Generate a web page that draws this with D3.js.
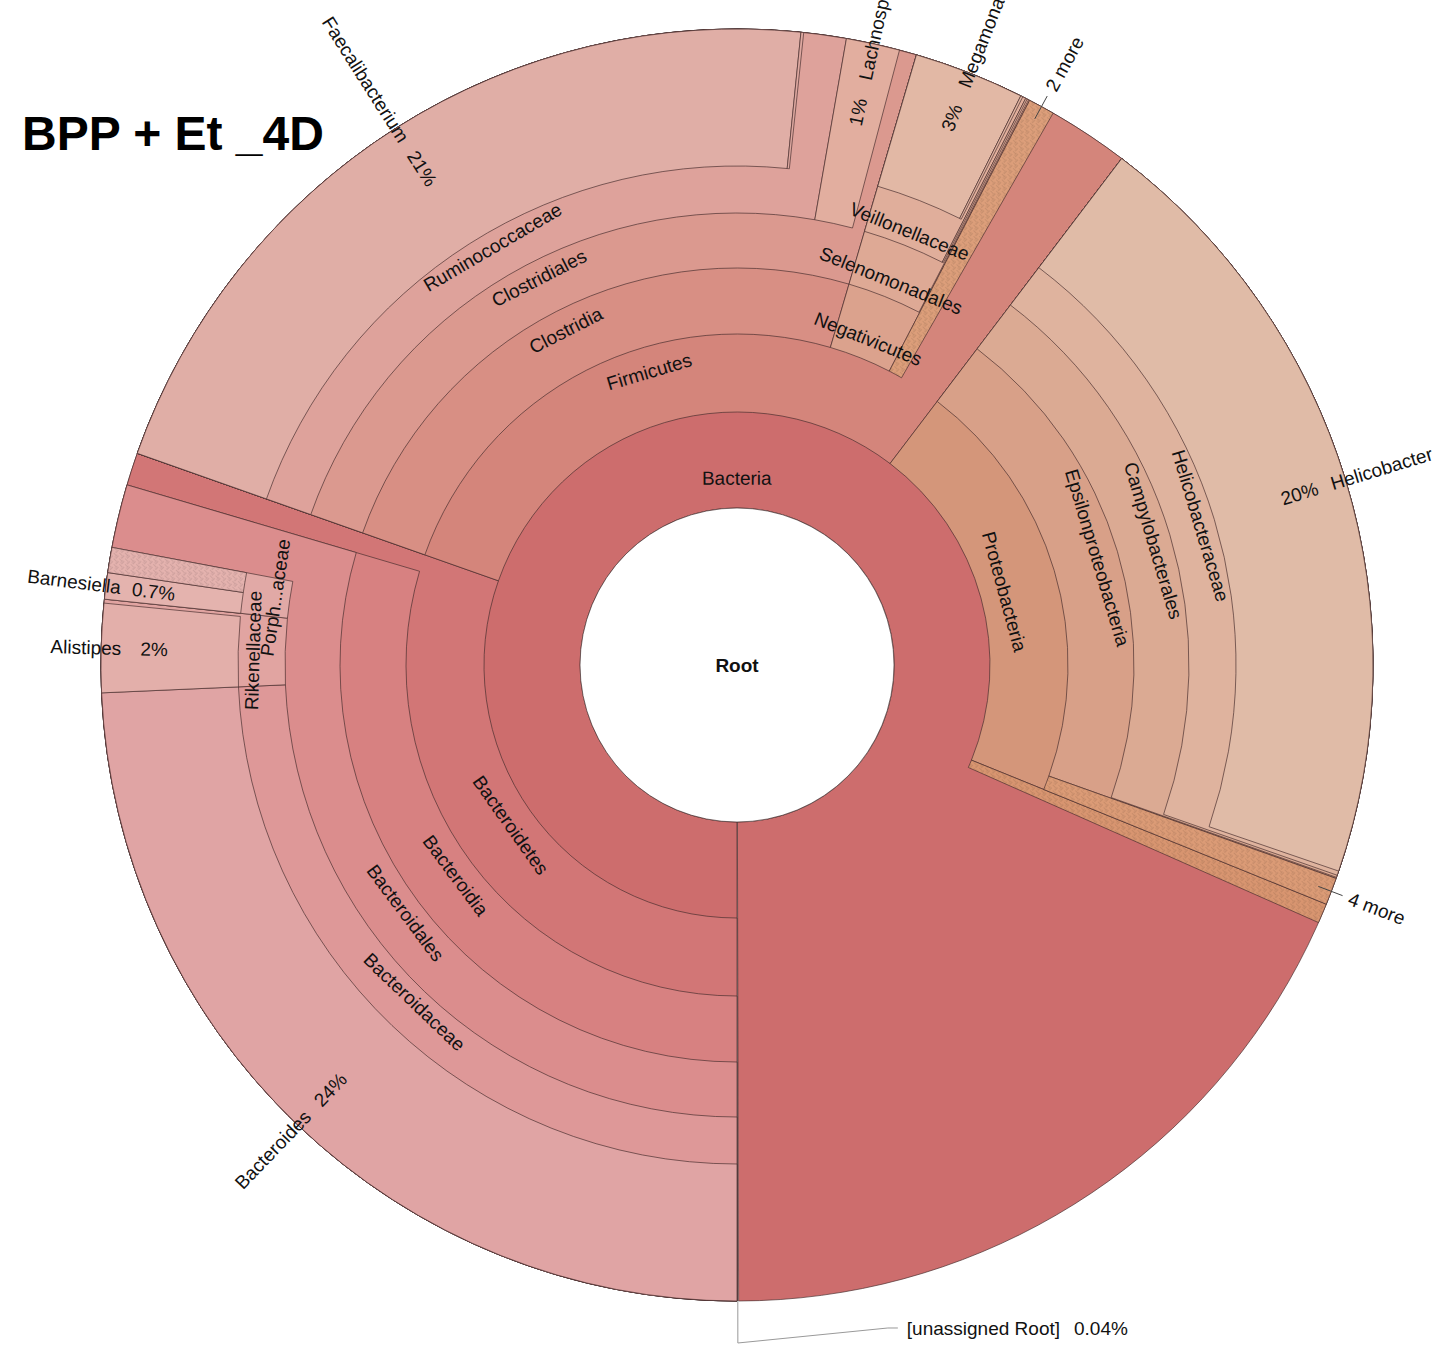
<!DOCTYPE html>
<html><head><meta charset="utf-8">
<script src="https://cdn.jsdelivr.net/npm/d3@7"></script>
<style>
html,body{margin:0;padding:0;background:#fff;}
svg{display:block;}
text{font-family:"Liberation Sans",Arial,Helvetica,sans-serif;}
</style></head><body>
<svg id="chart" width="1451" height="1347"></svg>
<script>
// ---------------- data ----------------
const chartTitle = "BPP + Et _4D";
const taxa = ["Root","Bacteria","Bacteroidetes","Bacteroidia","Bacteroidales","Bacteroidaceae","Bacteroides",
  "Rikenellaceae","Alistipes","Porphyromonadaceae","Barnesiella","Porphyromonadaceae (collapsed)",
  "Firmicutes","Clostridia","Clostridiales","Ruminococcaceae","Faecalibacterium","Ruminococcaceae (minor genus)",
  "Lachnospiraceae","Negativicutes","Selenomonadales","Veillonellaceae","Megamonas","Veillonellaceae (minor genus)",
  "Selenomonadales (minor family)","Firmicutes (collapsed)","Proteobacteria","Epsilonproteobacteria",
  "Campylobacterales","Helicobacteraceae","Helicobacter","Proteobacteria (collapsed)","Bacteria (collapsed)"];
const parents = ["","Root","Bacteria","Bacteroidetes","Bacteroidia","Bacteroidales","Bacteroidaceae",
  "Bacteroidales","Rikenellaceae","Bacteroidales","Porphyromonadaceae","Porphyromonadaceae",
  "Bacteria","Firmicutes","Clostridia","Clostridiales","Ruminococcaceae","Ruminococcaceae",
  "Clostridiales","Firmicutes","Negativicutes","Selenomonadales","Veillonellaceae","Veillonellaceae",
  "Selenomonadales","Firmicutes","Bacteria","Proteobacteria",
  "Epsilonproteobacteria","Campylobacterales","Helicobacteraceae","Proteobacteria","Bacteria"];
// percent of reads assigned directly to each node (not to its children)
const ownPercent = [0.04, 18.33, 0.83, 0, 1.61, 0, 24.31,
  0.10, 2.25, 0, 0.67, 0.64,
  2.06, 0, 0.44, 1.08, 21.21, 0.07,
  1.36, 0.03, 0.04, 0.083, 2.81, 0.056,
  0.04, 0.67, 0, 0.028,
  0.056, 0.11, 19.92, 0.69, 0.50];
// collapsed groups of small taxa (drawn hatched), with the number of hidden taxa shown as "N more"
const collapsedGroups = ["Porphyromonadaceae (collapsed)","Firmicutes (collapsed)","Proteobacteria (collapsed)","Bacteria (collapsed)"];
const collapsedCounts = [null, 2, 4, null];

// ---------------- style ----------------
const fillColor = {
  "Bacteria":"#cd6d6d","Bacteroidetes":"#d27676","Bacteroidia":"#d78181","Bacteroidales":"#db8d8d",
  "Bacteroidaceae":"#de9898","Bacteroides":"#e0a4a4","Rikenellaceae":"#e1a4a1","Alistipes":"#e3afaa",
  "Porphyromonadaceae":"#e1a9a6","Barnesiella":"#e4b3ae","Porphyromonadaceae (collapsed)":"#e4b2ae",
  "Firmicutes":"#d4857b","Clostridia":"#d88f84","Clostridiales":"#db998f","Ruminococcaceae":"#dea29b",
  "Faecalibacterium":"#e0aea6","Ruminococcaceae (minor genus)":"#dfa9a1","Lachnospiraceae":"#e2ae9f",
  "Negativicutes":"#dba28d","Selenomonadales":"#dea995","Veillonellaceae":"#e0ae9b","Megamonas":"#e2b8a5",
  "Veillonellaceae (minor genus)":"#e1b4a1","Selenomonadales (minor family)":"#dfae9a",
  "Firmicutes (collapsed)":"#dc9e7a","Proteobacteria":"#d4967a","Epsilonproteobacteria":"#d8a088",
  "Campylobacterales":"#dbaa93","Helicobacteraceae":"#dfb39e","Helicobacter":"#e0bba7",
  "Proteobacteria (collapsed)":"#db9b76","Bacteria (collapsed)":"#d89570"
};
const W = 1451, H = 1347, cx = 737, cy = 665;
const radii = [0, 157, 253, 331, 397, 452, 499];
const R = 636;
const OFF = Math.PI;            // first taxon starts at 6 o'clock, clockwise
const FS = 19;
const STROKE = "rgba(70,45,45,0.75)";
const radialShift = {"Lachnospiraceae": -22, "Alistipes": -5};

// ---------------- build ----------------
const svg = d3.select("#chart");
svg.append("rect").attr("width", W).attr("height", H).attr("fill", "#fff");
const defs = svg.append("defs");

const table = taxa.map((n, i) => ({name: n, parent: parents[i], own: ownPercent[i]}));
const root = d3.stratify().id(d => d.name).parentId(d => d.parent === "" ? null : d.parent)(table);
root.sum(d => d.own);
d3.partition().size([2 * Math.PI, 1])(root);

const isCollapsed = d => collapsedGroups.includes(d.data.name);
const span = d => (d.x1 - d.x0) * 180 / Math.PI;
const midA = d => (d.x0 + d.x1) / 2 + OFF;
const polar = (a, r) => [r * Math.sin(a), -r * Math.cos(a)];
const degOf = a => ((a * 180 / Math.PI) % 360 + 360) % 360;

const g = svg.append("g").attr("transform", `translate(${cx},${cy})`);

// hatch patterns (woven texture)
collapsedGroups.forEach((name, i) => {
  const c = fillColor[name];
  const p = defs.append("pattern").attr("id", "hatch" + i).attr("patternUnits", "userSpaceOnUse")
    .attr("width", 8).attr("height", 8).attr("patternTransform", "rotate(45)");
  p.append("rect").attr("width", 8).attr("height", 8).attr("fill", c);
  p.append("path").attr("d", "M0,1.5 H4 M4,0 V4 M4,5.5 H8 M0,4 V8 M1.5,4 V8 M5.5,0 V4")
    .attr("fill", "none").attr("stroke", d3.color(c).darker(0.7)).attr("stroke-width", 0.9).attr("opacity", 0.45);
});

const arc = d3.arc()
  .innerRadius(d => radii[d.depth]).outerRadius(R)
  .startAngle(d => d.x0 + OFF).endAngle(d => d.x1 + OFF);

const nodes = root.descendants().filter(d => d.depth > 0);
g.selectAll("path.wedge").data(nodes).join("path")
  .attr("class", "wedge")
  .attr("d", arc)
  .attr("fill", d => isCollapsed(d) ? `url(#hatch${collapsedGroups.indexOf(d.data.name)})` : fillColor[d.data.name])
  .attr("stroke", STROKE).attr("stroke-width", 0.9);

// center (root)
g.append("circle").attr("r", radii[1]).attr("fill", "#fff").attr("stroke", STROKE).attr("stroke-width", 0.9);
g.append("text").attr("text-anchor", "middle").attr("dominant-baseline", "central")
  .attr("font-size", FS).attr("font-weight", "bold").attr("fill", "#111").text(root.data.name);

// tangential labels for inner taxa (alternating inner/outer position within each ring)
const inner = nodes.filter(d => d.children && !isCollapsed(d) && span(d) >= 4);
const byDepth = d3.group(inner, d => d.depth);
byDepth.forEach(list => {
  list.sort((a, b) => a.x0 - b.x0).forEach((d, i) => {
    const frac = i % 2 === 0 ? 0.31 : 0.68;
    const r0 = radii[d.depth], r1 = d.depth + 1 < radii.length ? radii[d.depth + 1] : R;
    const r = r0 + frac * (r1 - r0);
    const a = midA(d), deg = degOf(a);
    const rot = (deg > 90 && deg < 270) ? deg - 180 : deg;
    const [x, y] = polar(a, r);
    let name = d.data.name;
    if (span(d) < 6 && name.length > 12) name = name.slice(0, 5) + "..." + name.slice(-5);
    g.append("text").attr("transform", `translate(${x},${y}) rotate(${rot})`)
      .attr("text-anchor", "middle").attr("dominant-baseline", "central")
      .attr("font-size", FS).attr("fill", "#111").text(name);
  });
});

// percentage formatting
const total = root.value;
const fmtPct = v => { const p = v / total * 100; return (p >= 1 ? Math.round(p) : +p.toPrecision(1)) + "%"; };

// radial labels for leaf taxa
nodes.filter(d => !d.children && !isCollapsed(d) && span(d) >= 2).forEach(d => {
  const a = midA(d), deg = degOf(a);
  const right = deg < 180;
  const rot = right ? deg - 90 : deg - 270;
  const sh = radialShift[d.data.name] || 0;
  const [nx, ny] = polar(a, 621 + sh);
  const [px, py] = polar(a, 588 + sh);
  g.append("text").attr("transform", `translate(${nx},${ny}) rotate(${rot})`)
    .attr("text-anchor", right ? "start" : "end").attr("dominant-baseline", "central")
    .attr("font-size", FS).attr("fill", "#111").text(d.data.name);
  g.append("text").attr("transform", `translate(${px},${py}) rotate(${rot})`)
    .attr("text-anchor", "middle").attr("dominant-baseline", "central")
    .attr("font-size", FS).attr("fill", "#111").text(fmtPct(d.value));
});

// "N more" labels for collapsed groups
nodes.filter(d => isCollapsed(d)).forEach(d => {
  const cnt = collapsedCounts[collapsedGroups.indexOf(d.data.name)];
  if (!cnt) return;
  const a = midA(d), deg = degOf(a);
  const right = deg < 180;
  const rot = right ? deg - 90 : deg - 270;
  const [x1, y1] = polar(a, 622), [x2, y2] = polar(a, 648), [tx, ty] = polar(a, 655);
  g.append("line").attr("x1", x1).attr("y1", y1).attr("x2", x2).attr("y2", y2)
    .attr("stroke", "#444").attr("stroke-width", 1);
  g.append("text").attr("transform", `translate(${tx},${ty}) rotate(${rot})`)
    .attr("text-anchor", right ? "start" : "end").attr("dominant-baseline", "central")
    .attr("font-size", FS).attr("fill", "#111").text(cnt + " more");
});

// unassigned root label
{
  const lastChild = root.children[root.children.length - 1];
  const a = (lastChild.x1 + 2 * Math.PI) / 2 + OFF;
  const [x1, y1] = polar(a, R), [x2, y2] = polar(a, R + 42);
  g.append("polyline").attr("points", [[x1, y1], [x2, y2], [x2 + 150, y2 - 15], [x2 + 160, y2 - 15]].map(p => p.join(",")).join(" "))
    .attr("fill", "none").attr("stroke", "#999").attr("stroke-width", 1);
  const t = g.append("text").attr("x", x2 + 169).attr("y", y2 - 15).attr("dominant-baseline", "central")
    .attr("font-size", FS).attr("fill", "#111");
  t.append("tspan").text("[unassigned " + root.data.name + "]");
  t.append("tspan").attr("dx", 14).text(fmtPct(root.data.own));
}

// title
svg.append("text").attr("x", 22).attr("y", 150).attr("font-size", 48).attr("font-weight", "bold")
  .attr("fill", "#000").text(chartTitle);
</script>
</body></html>
